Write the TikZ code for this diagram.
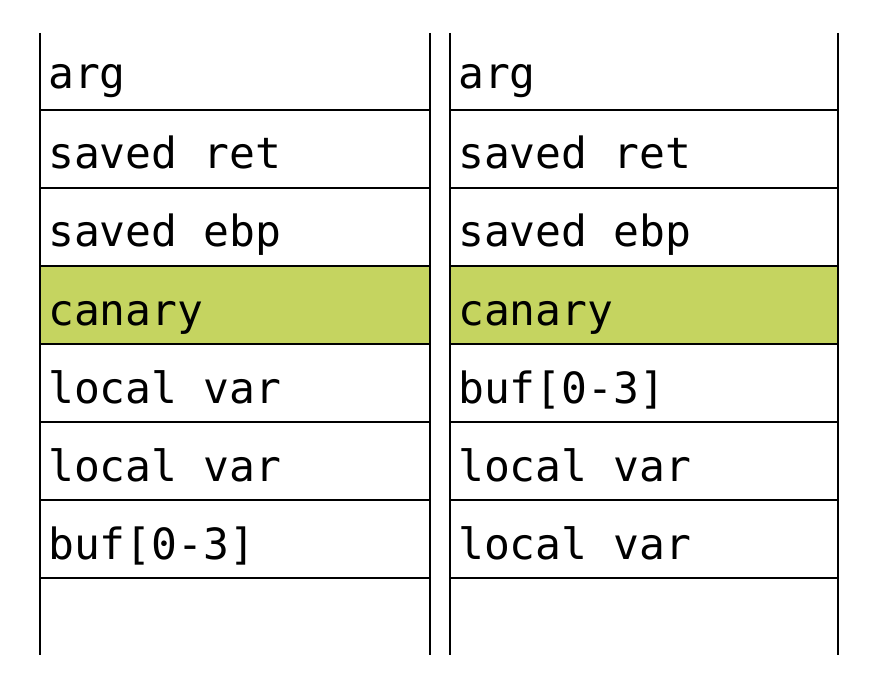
\documentclass[tikz,border=0pt]{standalone}
\usepackage{fontspec}
\setmonofont{DejaVu Sans Mono}
\definecolor{canaryfill}{RGB}{197,212,96}
\tikzset{
  frame/.style={line width=2.6pt, black},
  cell/.style={anchor=base west, inner sep=0pt, font=\fontsize{43}{43}\selectfont\ttfamily},
}
\begin{document}
\begin{tikzpicture}[x=1pt,y=-1pt]
  \useasboundingbox (0,0) rectangle (872,692);
  % canary slots
  \fill[canaryfill] (40,266) rectangle (430,344);
  \fill[canaryfill] (450,266) rectangle (838,344);
  % row separators
  \foreach \yy in {110,188,266,344,422,500,578} {
    \draw[frame] (40,\yy) -- (430,\yy);
    \draw[frame] (450,\yy) -- (838,\yy);
  }
  % stack walls
  \foreach \xx in {40,430,450,838} {
    \draw[frame] (\xx,33) -- (\xx,655);
  }
  % left stack
  \node[cell] (l1) at (48,89)  {arg};
  \node[cell] (l2) at (48,169) {saved ret};
  \node[cell] (l3) at (48,247) {saved ebp};
  \node[cell] (l4) at (48,325) {canary};
  \node[cell] (l5) at (48,403) {local var};
  \node[cell] (l6) at (48,481) {local var};
  \node[cell] (l7) at (48,559) {buf[0-3]};
  % right stack
  \node[cell] (r1) at (458,89)  {arg};
  \node[cell] (r2) at (458,169) {saved ret};
  \node[cell] (r3) at (458,247) {saved ebp};
  \node[cell] (r4) at (458,325) {canary};
  \node[cell] (r5) at (458,403) {buf[0-3]};
  \node[cell] (r6) at (458,481) {local var};
  \node[cell] (r7) at (458,559) {local var};
\end{tikzpicture}
\end{document}
